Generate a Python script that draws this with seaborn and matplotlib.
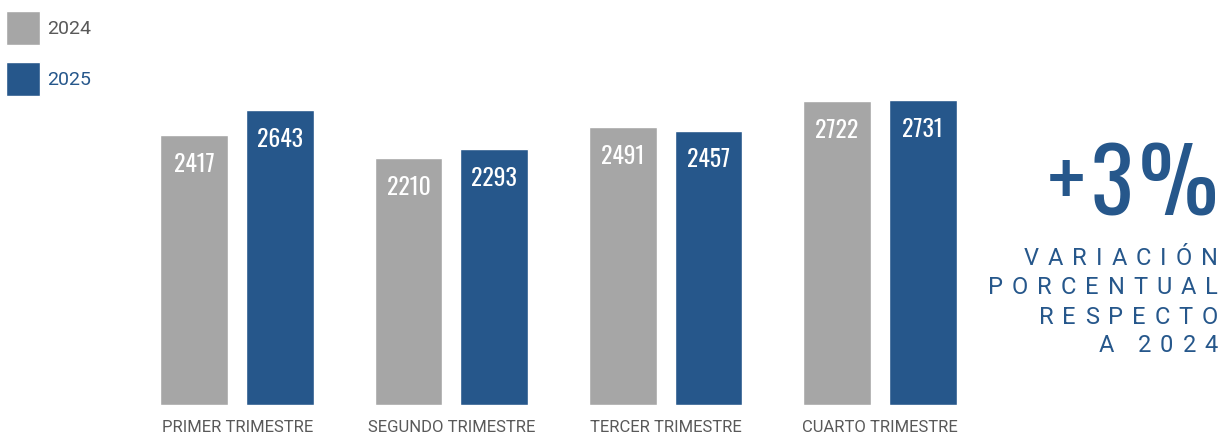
import pandas as pd
import seaborn as sns
import matplotlib.pyplot as plt

trimestres = ['PRIMER TRIMESTRE', 'SEGUNDO TRIMESTRE', 'TERCER TRIMESTRE', 'CUARTO TRIMESTRE']
anios = ['2024', '2025']
valores_2024 = [2417, 2210, 2491, 2722]
valores_2025 = [2643, 2293, 2457, 2731]
variacion = '+3%'
texto_variacion = ['VARIACIÓN', 'PORCENTUAL', 'RESPECTO', 'A 2024']

GRIS = '#a6a6a6'
AZUL = '#26578b'
TEXTO = '#595959'
CONDENSADA = ['Oswald', 'Fira Sans Extra Condensed', 'DejaVu Sans']
W, H = 1220, 434


def spaced_text(fig, s, x_right, y_base, track, size, **kw):
    # letter-spaced text, right aligned, positions in pixels from top-left
    r = fig.canvas.get_renderer()
    x = x_right
    for ch in reversed(s):
        if ch == ' ':
            x -= 0.25 * size * 100 / 72 + track
            continue
        t = fig.text(x / W, 1 - y_base / H, ch, ha='right', va='baseline', fontsize=size, **kw)
        x -= t.get_window_extent(r).width + track


def plot_trimestres():
    df = pd.DataFrame({
        'trimestre': trimestres * 2,
        'valor': valores_2024 + valores_2025,
        'anio': [anios[0]] * 4 + [anios[1]] * 4,
    })

    sns.set_style('white')
    plt.rcParams['font.family'] = ['Roboto', 'DejaVu Sans']

    fig = plt.figure(figsize=(12.2, 4.34), dpi=100)
    ax = fig.add_axes([130 / W, 29 / H, 857 / W, 315 / H])
    sns.barplot(data=df, x='trimestre', y='valor', hue='anio', hue_order=anios,
                palette=[GRIS, AZUL], saturation=1, width=0.8, gap=0.21, ax=ax)
    ax.set_xlim(-0.5, 3.5)
    ax.set_ylim(0, 315 * 8.96)
    ax.set_xlabel('')
    ax.set_ylabel('')
    ax.set_yticks([])
    sns.despine(ax=ax, left=True, bottom=True)
    ax.tick_params(axis='x', length=0, pad=10.5, labelsize=12, labelcolor=TEXTO)

    for cont in ax.containers:
        texts = ax.bar_label(cont, padding=-21, color='white', fontsize=17,
                             fontweight='bold', family=CONDENSADA)
        for t in texts:
            t.set_va('center')

    handles, labels = ax.get_legend_handles_labels()
    ax.legend_.remove()
    leg = fig.legend(handles, labels, loc='upper left', bbox_to_anchor=(6 / W, 1 - 11 / H),
                     bbox_transform=fig.transFigure, frameon=False, fontsize=14,
                     handleheight=2.33, handlelength=1.76, handletextpad=0.36,
                     labelspacing=0.85, borderpad=0, borderaxespad=0)
    for txt, col in zip(leg.get_texts(), [TEXTO, AZUL]):
        txt.set_color(col)

    spaced_text(fig, variacion, 1218, 215, 6, 64, color=AZUL, fontweight='bold',
                family=CONDENSADA)
    for linea, yb in zip(texto_variacion, [265, 294.5, 323.5, 352.5]):
        spaced_text(fig, linea, 1218, yb, 9, 17, color=AZUL)

    fig.savefig('out.png', dpi=100)


if __name__ == "__main__":
    plot_trimestres()
